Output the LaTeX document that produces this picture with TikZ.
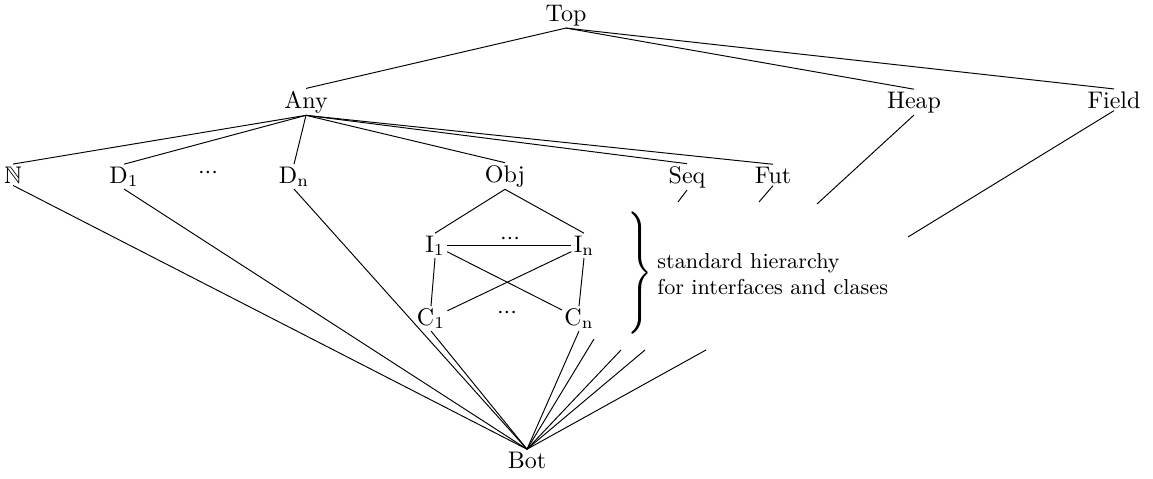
\documentclass[tikz,border=0pt]{standalone}
\usepackage{amssymb}
\usepackage{graphicx}
\begin{document}
\begin{tikzpicture}[x=0.41667pt,y=-0.41667pt,
  lbl/.style={inner sep=1pt, outer sep=0pt, anchor=base},
  gap/.style={inner sep=0pt, outer sep=0pt},
  edge/.style={line width=0.4pt}]
\useasboundingbox (0,0) rectangle (1153,479);

% lattice elements
\node[lbl] (top)   at (566,21)  {Top};
\node[lbl] (any)   at (306,108) {Any};
\node[lbl] (heap)  at (914,108) {Heap};
\node[lbl] (field) at (1114,108) {Field};
\node[lbl] (nat)   at (13,183)  {$\mathbb{N}$};
\node[lbl] (d1)    at (124,183) {$\mathrm{D_1}$};
\node[gap] (ddots) at (208,173) {${\cdot}{\cdot}{\cdot}$};
\node[lbl] (dn)    at (294,183) {$\mathrm{D_n}$};
\node[lbl] (obj)   at (505,182) {Obj};
\node[lbl] (seq)   at (687,183) {Seq};
\node[lbl] (fut)   at (773,183) {Fut};
\node[lbl] (i1)    at (435,252) {$\mathrm{I_1}$};
\node[gap] (idots) at (510,239) {${\cdot}{\cdot}{\cdot}$};
\node[lbl] (in)    at (584,252) {$\mathrm{I_n}$};
\node[lbl] (c1)    at (431,325) {$\mathrm{C_1}$};
\node[gap] (cdots) at (507,313) {${\cdot}{\cdot}{\cdot}$};
\node[lbl] (cn)    at (579,325) {$\mathrm{C_n}$};
\node[lbl] (bot)   at (527,468) {Bot};

% brace and its note
\node[gap] (brace) at (640,273) {\scalebox{1.3}[1.7]{$\Biggr\}$}};
\node[anchor=west, align=left, font=\small, inner sep=0pt] (note) at (657,274)
  {standard hierarchy\\for interfaces and clases};

% free ends of the interrupted edges
\coordinate (seqA)   at (678,202);
\coordinate (futA)   at (759,202);
\coordinate (heapA)  at (817,204);
\coordinate (fieldA) at (908,237);
\coordinate (seqB)   at (594,339);
\coordinate (futB)   at (621,350);
\coordinate (heapB)  at (645,350);
\coordinate (fieldB) at (706,350);

% edges from Top
\draw[edge] (top.south) -- (any.north);
\draw[edge] (top.south) -- (heap.north);
\draw[edge] (top.south) -- (field.north);

% edges from Any
\foreach \c in {nat,d1,dn,obj,seq,fut}
  \draw[edge] (any.south) -- (\c.north);

% object hierarchy
\draw[edge] (obj.south) -- (i1.north);
\draw[edge] (obj.south) -- (in.north);
\draw[edge] (i1) -- (in);
\draw[edge] (i1.south) -- (c1.north);
\draw[edge] (in.south) -- (cn.north);
\draw[edge] (i1) -- (cn);
\draw[edge] (in) -- (c1);

% edges into Bot
\foreach \c in {nat,d1,dn,c1,cn}
  \draw[edge] (\c.south) -- (bot.north);

% interrupted edges
\draw[edge] (seq.south) -- (seqA);
\draw[edge] (fut.south) -- (futA);
\draw[edge] (heap.south) -- (heapA);
\draw[edge] (field.south) -- (fieldA);
\draw[edge] (bot.north) -- (seqB);
\draw[edge] (bot.north) -- (futB);
\draw[edge] (bot.north) -- (heapB);
\draw[edge] (bot.north) -- (fieldB);
\end{tikzpicture}
\end{document}
